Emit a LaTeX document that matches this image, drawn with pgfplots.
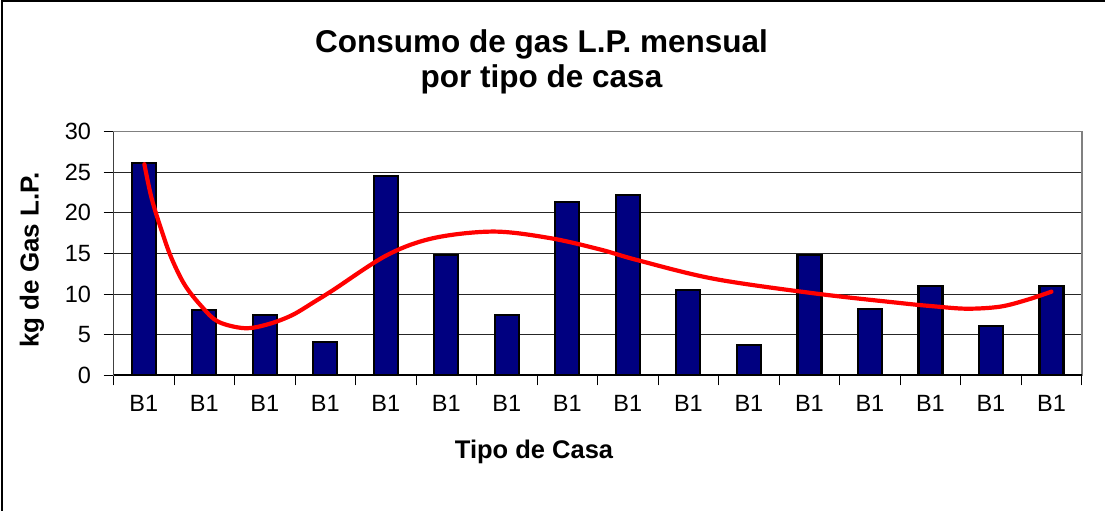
\documentclass[border=0pt]{standalone}
\usepackage{fontspec}
\setmainfont{Liberation Sans}
\usepackage{pgfplots}
\pgfplotsset{compat=1.18}
\definecolor{barnavy}{HTML}{000080}
\begin{document}
\begin{tikzpicture}[x=1pt,y=1pt]
\useasboundingbox (0,0) rectangle (1105,511);
\begin{scope}
\clip (0,0) rectangle (1105,511);
\draw[line width=1.5pt, black] (2,-10) -- (2,510) -- (1120,510);
\end{scope}
\node[font=\bfseries\fontsize{31.5}{35}\selectfont, align=center] at (541.5,449) {Consumo de gas L.P. mensual\\por tipo de casa};
\node[rotate=90, font=\bfseries\fontsize{26}{30}\selectfont] at (32,251) {kg de Gas L.P.};
\node[font=\bfseries\fontsize{25.5}{30}\selectfont] at (534,59) {Tipo de Casa};
\begin{axis}[
  at={(113.5pt,135.7pt)}, anchor=south west,
  width=968.2pt, height=243.6pt, scale only axis,
  xmin=-0.5, xmax=15.5, ymin=0, ymax=30,
  ytick={0,5,...,30},
  xtick={-0.5,0.5,...,15.5}, xticklabels={},
  extra x ticks={0,1,...,15},
  extra x tick labels={B1,B1,B1,B1,B1,B1,B1,B1,B1,B1,B1,B1,B1,B1,B1,B1},
  extra x tick style={major tick length=0pt, grid=none},
  xtick pos=bottom, ytick pos=left,
  tick align=outside, major tick length=10pt,
  tick style={black, line width=1pt},
  ymajorgrids, grid style={black!85, line width=1.1pt},
  axis line style={draw=black!50, line width=1.6pt},
  ticklabel style={font=\fontsize{23.5}{28}\selectfont},
  /pgf/number format/assume math mode=true,
  yticklabel style={xshift=-9pt},
  xticklabel style={yshift=-17pt},
  clip=false,
]
\addplot[ybar, bar width=24pt, fill=barnavy, draw=black, line width=2.2pt] coordinates {
(0,26.1) (1,8.0) (2,7.4) (3,4.1) (4,24.5) (5,14.8) (6,7.4) (7,21.3)
(8,22.2) (9,10.5) (10,3.7) (11,14.8) (12,8.2) (13,11.0) (14,6.1) (15,11.0)
};
\addplot[red, line width=4.2pt, smooth, tension=0.55, line cap=round] coordinates {
(0.01,26.0) (0.13,21.8) (0.30,17.7) (0.46,14.4) (0.68,11.1) (0.96,8.45)
(1.23,6.6) (1.67,5.8) (2.06,6.3) (2.45,7.4) (2.83,9.1) (3.13,10.5)
(4.02,14.8) (4.79,16.9) (5.78,17.7) (6.71,16.9) (7.54,15.5) (8.15,14.2)
(9.41,11.9) (11.07,10.1) (12.5,8.9) (13.05,8.5) (13.6,8.2) (14.15,8.45)
(14.6,9.3) (15.0,10.3)
};
\draw[black, line width=1.6pt] (rel axis cs:0,0) -- (rel axis cs:1,0);
\draw[black!75, line width=1.6pt] (rel axis cs:0,0) -- (rel axis cs:0,1);
\end{axis}
\end{tikzpicture}
\end{document}
